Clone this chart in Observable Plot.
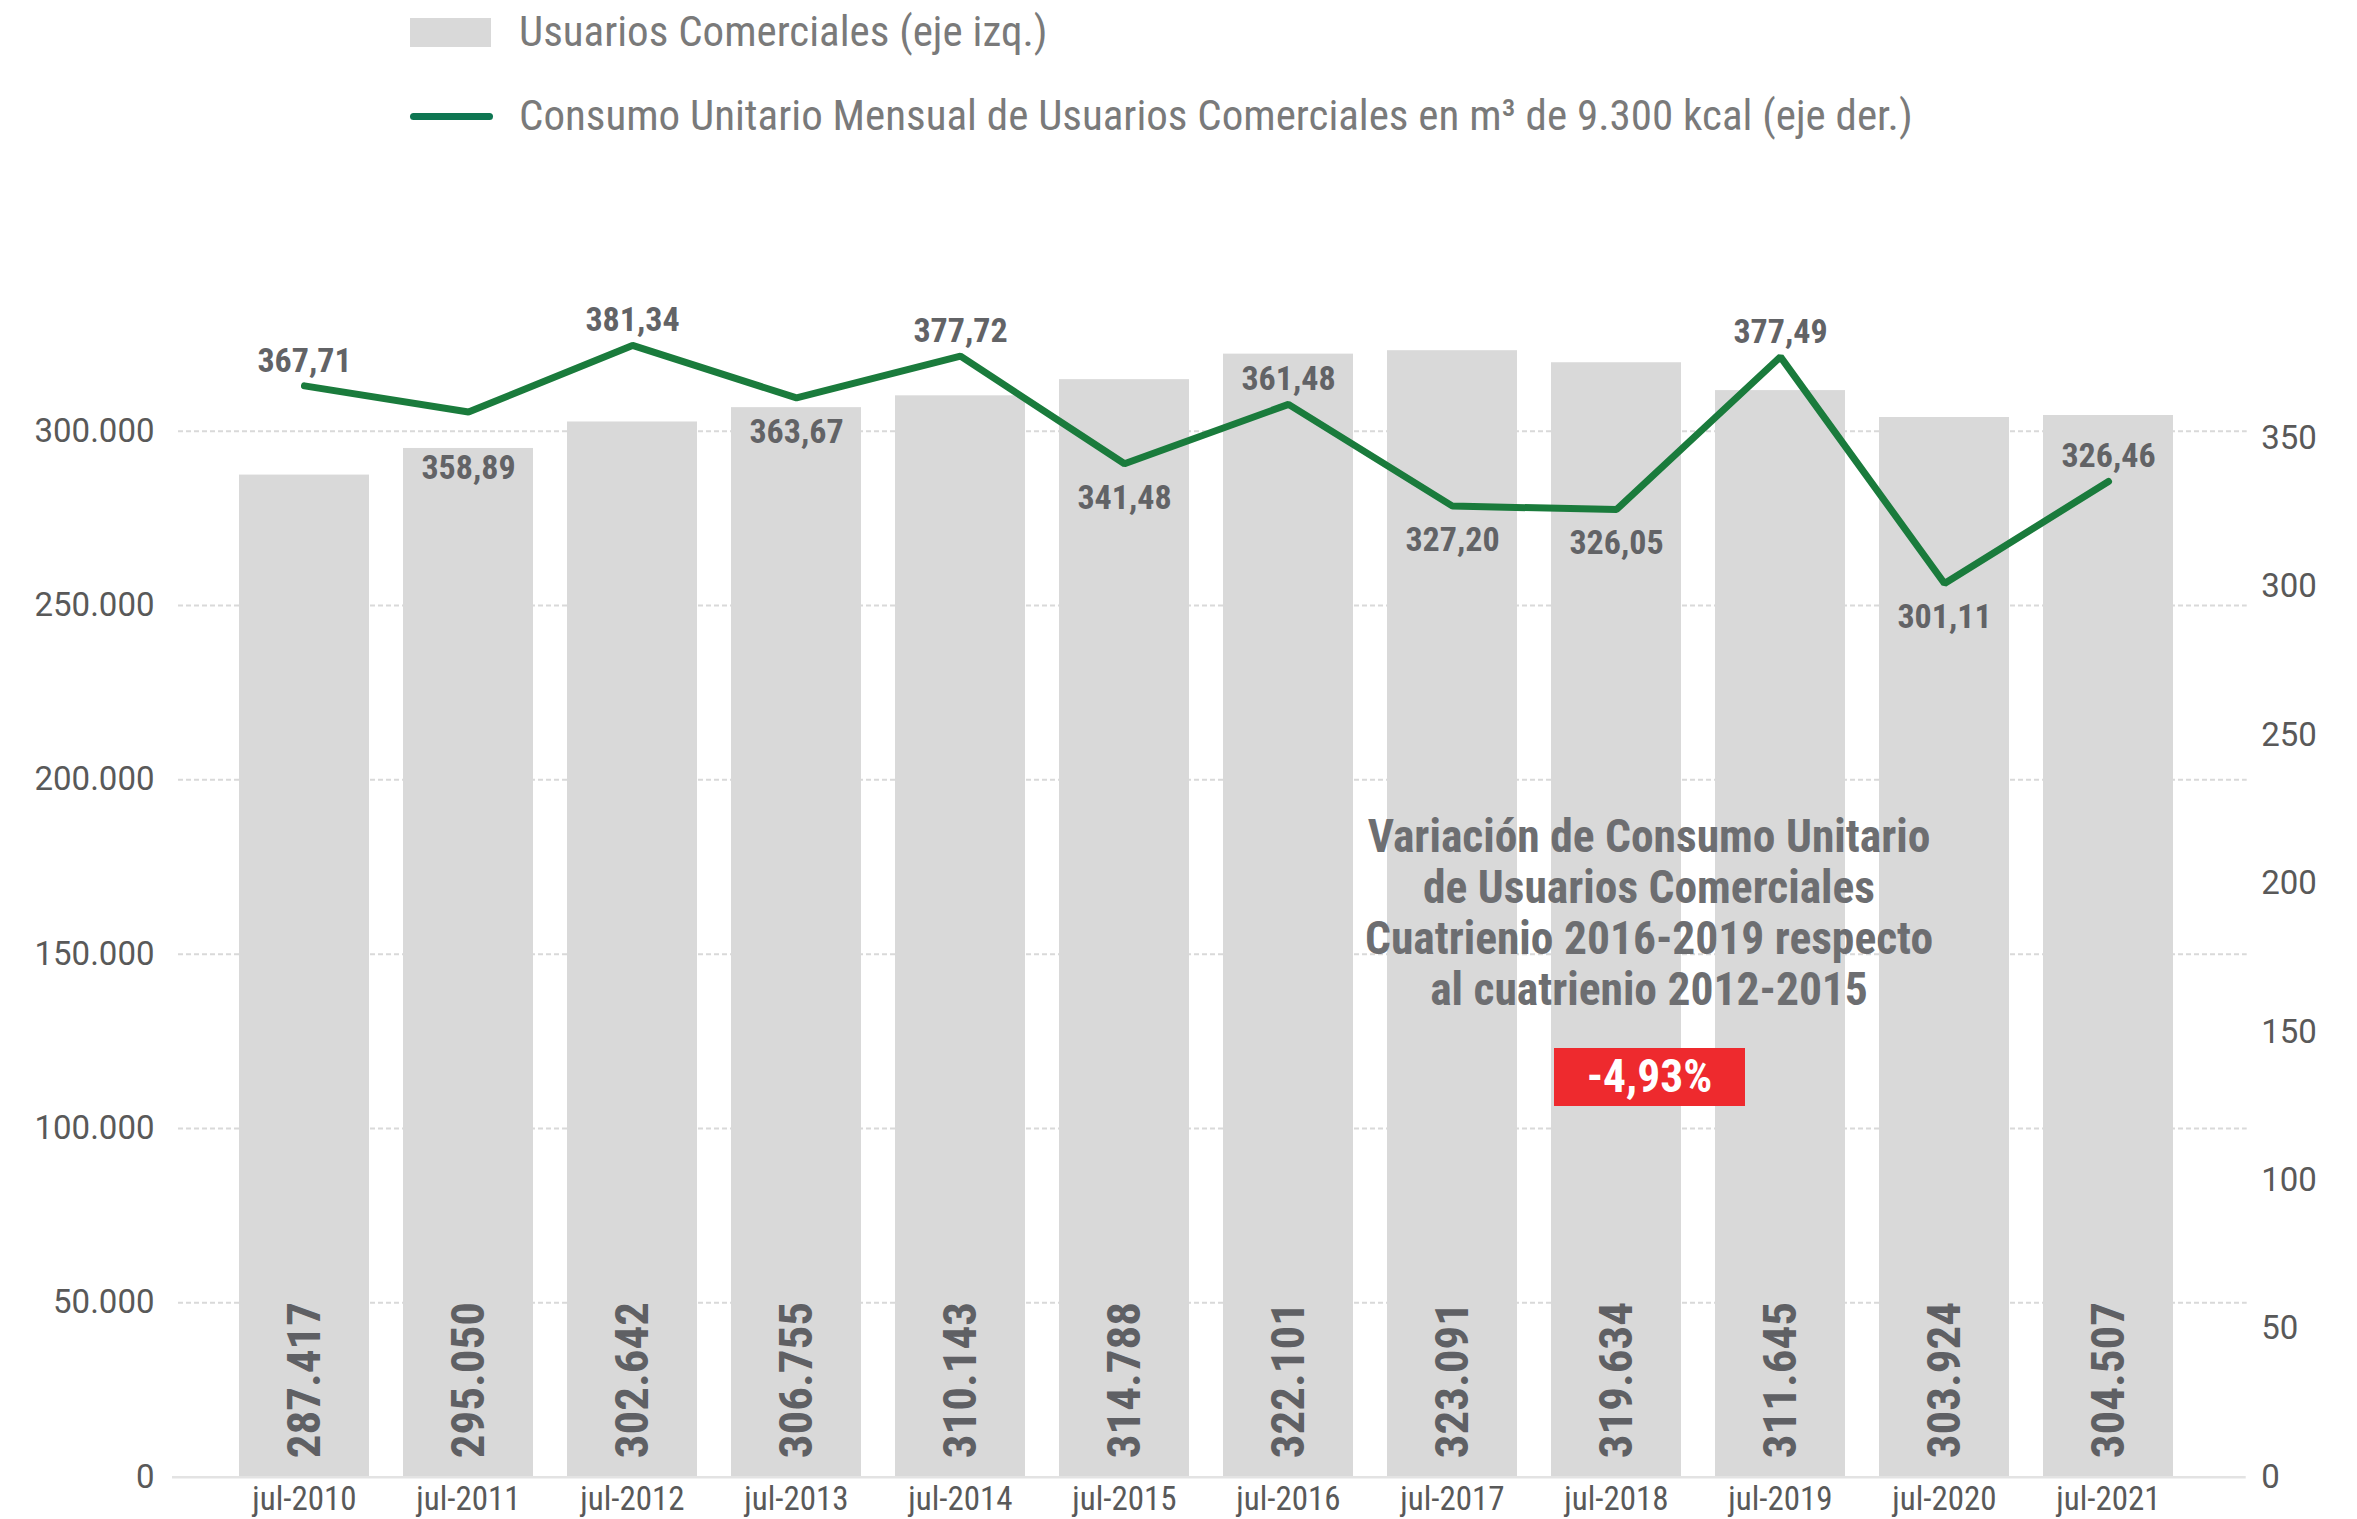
<!DOCTYPE html>
<html>
<head>
<meta charset="utf-8">
<script src="https://cdn.jsdelivr.net/npm/d3@7"></script>
<script src="https://cdn.jsdelivr.net/npm/@observablehq/plot@0.6"></script>
<style>
  html, body { margin: 0; padding: 0; background: #ffffff; }
  #wrap { position: relative; width: 2357px; height: 1519px; overflow: hidden; }
  .cond { font-family: "Roboto Condensed", "Liberation Sans Narrow", "DejaVu Sans Condensed", Roboto, sans-serif; font-stretch: condensed; }
  #legend { position: relative; height: 150px; }
  .lg-text { position: absolute; left: 519px; font-size: 43px; line-height: 43px; color: #7a7a7a; white-space: nowrap; }
  #annot { position: absolute; left: 1199px; top: 811px; width: 900px; text-align: center; font-size: 45.5px; line-height: 51px; font-weight: 700; color: #6d6e71; }
  #badge { position: absolute; left: 1554px; top: 1048px; width: 191px; height: 58px; background: #ee2a2e; color: #ffffff; font-size: 45.5px; line-height: 58px; font-weight: 700; text-align: center; }
</style>
</head>
<body>
<div id="wrap">
  <div id="legend">
    <div style="position:absolute;left:410px;top:18px;width:81px;height:29px;background:#d9d9d9"></div>
    <div class="lg-text cond" style="top:10px">Usuarios Comerciales (eje izq.)</div>
    <div style="position:absolute;left:410px;top:113px;width:83px;height:7px;border-radius:4px;background:#0e7652"></div>
    <div class="lg-text cond" style="top:94px">Consumo Unitario Mensual de Usuarios Comerciales en m³ de 9.300 kcal (eje der.)</div>
  </div>
  <div id="chart"></div>
  <div id="annot" class="cond">Variación de Consumo Unitario<br>de Usuarios Comerciales<br>Cuatrienio 2016-2019 respecto<br>al cuatrienio 2012-2015</div>
  <div id="badge" class="cond">-4,93%</div>
</div>
<script>
// ---- Data ----
const categories = ["jul-2010","jul-2011","jul-2012","jul-2013","jul-2014","jul-2015","jul-2016","jul-2017","jul-2018","jul-2019","jul-2020","jul-2021"];
const usuarios = [287417, 295050, 302642, 306755, 310143, 314788, 322101, 323091, 319634, 311645, 303924, 304507];
// line positions as drawn in the picture (the last point sits higher than its printed label)
const consumo = [367.71, 358.89, 381.34, 363.67, 377.72, 341.48, 361.48, 327.20, 326.05, 377.49, 301.11, 335.5];
// printed data labels
const consumoLabels = ["367,71","358,89","381,34","363,67","377,72","341,48","361,48","327,20","326,05","377,49","301,11","326,46"];
const labelPlacement = ["above","below","above","below","above","below","above","below","below","above","below","above"];
const leftTicks = [0, 50000, 100000, 150000, 200000, 250000, 300000];
const rightTicks = [0, 50, 100, 150, 200, 250, 300, 350];

// ---- Build ----
const locale = d3.formatLocale({decimal: ",", thousands: ".", grouping: [3], currency: ["", ""]});
const fmtInt = locale.format(",.0f");

const K = 851.2; // right-axis unit expressed in left-axis units
const rows = categories.map((c, i) => ({cat: c, usuarios: usuarios[i], consumo: consumo[i], scaled: consumo[i] * K, label: consumoLabels[i], place: labelPlacement[i], i}));

const condFont = '"Roboto Condensed", "Liberation Sans Narrow", "DejaVu Sans Condensed", Roboto, sans-serif';
const farLabels = new Set([1]);
const lblStyle = {fontSize: 34, fontWeight: 700, fill: "#626366", fontFamily: condFont};

const chart = Plot.plot({
  width: 2357,
  height: 1369,
  marginTop: 280.7,
  marginBottom: 42.3,
  marginLeft: 155,
  marginRight: 99.3,
  style: {background: "#ffffff", overflow: "visible"},
  x: {domain: categories, paddingInner: 0.209, paddingOuter: 0.5, label: null},
  y: {domain: [0, 300000], label: null},
  marks: [
    Plot.ruleY(leftTicks.filter(d => d > 0), {stroke: "#d9d9d9", strokeWidth: 2, strokeDasharray: "5,3", insetLeft: 23, insetRight: 11}),
    Plot.barY(rows, {x: "cat", y: "usuarios", fill: "#d9d9d9"}),
    Plot.ruleY([0], {stroke: "#e3e3e3", strokeWidth: 2.5, insetLeft: 17, insetRight: 12}),
    Plot.axisY({anchor: "left", ticks: leftTicks, tickFormat: fmtInt, tickSize: 0, tickPadding: 1, fontSize: 33, fill: "#595959", fontFamily: "Roboto, sans-serif", label: null}),
    Plot.axisY({anchor: "right", ticks: rightTicks.map(v => v * K), tickFormat: d => String(Math.round(d / K)), tickSize: 0, tickPadding: 3, fontSize: 33, fill: "#595959", fontFamily: "Roboto, sans-serif", label: null}),
    Plot.axisX({tickSize: 0, tickPadding: 9, fontSize: 33, fill: "#595959", fontFamily: condFont, label: null}),
    Plot.text(rows, {x: "cat", y: d => 0, text: d => fmtInt(d.usuarios), rotate: -90, textAnchor: "start", lineAnchor: "middle", dy: -19, fontSize: 47, fontWeight: 700, fill: "#5f6064", fontFamily: condFont}),
    Plot.line(rows, {x: "cat", y: "scaled", stroke: "#1a7b3c", strokeWidth: 7, strokeLinejoin: "miter", strokeLinecap: "round"}),
    Plot.text(rows.filter(d => d.place === "above"), {x: "cat", y: "scaled", text: "label", dy: -25, ...lblStyle}),
    Plot.text(rows.filter(d => d.place === "below" && !farLabels.has(d.i)), {x: "cat", y: "scaled", text: "label", dy: 34, ...lblStyle}),
    Plot.text(rows.filter(d => d.place === "below" && farLabels.has(d.i)), {x: "cat", y: "scaled", text: "label", dy: 56, ...lblStyle})
  ]
});
document.getElementById("chart").appendChild(chart);
</script>
</body>
</html>
